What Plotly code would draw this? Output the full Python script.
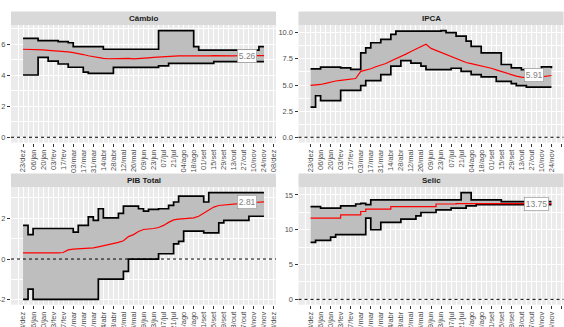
import plotly.graph_objects as go
import pandas as pd

# ---------------- data ----------------
dates = pd.date_range("2021-12-23", periods=49, freq="7D")

tick_dates = pd.date_range("2021-12-23", periods=26, freq="14D")
tick_labels = ["23/dez", "06/jan", "20/jan", "03/fev", "17/fev", "03/mar", "17/mar", "31/mar",
               "14/abr", "28/abr", "12/mai", "26/mai", "09/jun", "23/jun", "07/jul", "21/jul",
               "04/ago", "18/ago", "01/set", "15/set", "29/set", "13/out", "27/out", "10/nov",
               "24/nov", "08/dez"]

cambio_max = [6.37]*3 + [6.22]*4 + [6.16]*2 + [6.09] + [5.84]*6 + [5.67]*11 + [6.87]*7 + [5.84] + [5.62]*12 + [5.84]*2
cambio_min = [4.01]*3 + [5.15]*2 + [4.91]*2 + [4.72]*2 + [4.51]*3 + [4.2] + [4.12]*5 + [4.5]*9 + [4.6]*2 + [4.76]*9 + [4.87]*11
cambio_med = [5.67, 5.67, 5.66, 5.65, 5.63, 5.6, 5.58, 5.57, 5.56, 5.5, 5.45, 5.4, 5.33, 5.25, 5.18, 5.12,
              5.08, 5.06, 5.06, 5.08, 5.1, 5.08, 5.05, 5.07, 5.06, 5.12, 5.15, 5.17, 5.2, 5.24, 5.24, 5.25,
              5.25, 5.24, 5.25, 5.26, 5.25, 5.25, 5.26, 5.25, 5.26, 5.26, 5.25, 5.26, 5.26, 5.25, 5.26, 5.26, 5.26]

ipca_max = [6.54]*2 + [6.7]*4 + [6.63]*2 + [6.5]*2 + [8.08] + [8.56] + [9.04]*2 + [9.36]*2 + [9.84] + [10.16]*9 + [10.2] + [10.0]*2 + [9.68]*2 + [9.2] + [8.7]*2 + [8.08]*4 + [6.96]*2 + [6.63]*2 + [6.47]*4 + [6.73]*2 + [6.6]
ipca_min = [2.88] + [3.97] + [3.5]*4 + [4.49]*4 + [4.94] + [5.42]*3 + [6.0]*2 + [6.8]*2 + [7.34]*2 + [7.1]*2 + [6.8] + [6.47] + [6.47]*4 + [6.6]*2 + [6.3]*2 + [6.0]*2 + [5.77]*3 + [5.35]*3 + [5.13] + [4.94]*2 + [4.8]*6
ipca_med = [4.97, 5.0, 5.05, 5.15, 5.3, 5.38, 5.45, 5.5, 5.55, 5.62, 6.3, 6.4, 6.55, 6.75, 6.9, 7.05,
            7.3, 7.5, 7.7, 7.95, 8.2, 8.45, 8.7, 8.89, 8.5, 8.3, 8.15, 7.9, 7.7, 7.5, 7.3, 7.15,
            7.05, 6.95, 6.85, 6.7, 6.6, 6.45, 6.3, 6.1, 5.95, 5.85, 5.75, 5.67, 5.65, 5.7, 5.78, 5.85, 5.91]

pib_max = [1.65] + [1.2] + [1.5]*8 + [1.32] + [1.65]*2 + [2.07] + [1.9] + [2.47] + [2.02]*3 + [2.24] + [2.6]*3 + [2.47] + [2.35] + [2.44]*2 + [2.47]*2 + [2.63] + [2.8] + [3.09]*5 + [2.8] + [3.26]*12
pib_min = [-1.98] + [-1.48] + [-1.98]*13 + [-0.99]*5 + [-0.61] + [0.0]*6 + [0.26]*3 + [0.74] + [0.87] + [1.37]*4 + [1.28]*3 + [1.78] + [1.9]*5 + [2.1]*4
pib_med = [0.3, 0.3, 0.28, 0.3, 0.3, 0.3, 0.3, 0.3, 0.32, 0.45, 0.49, 0.5, 0.5, 0.52, 0.55, 0.6,
           0.65, 0.7, 0.78, 0.82, 0.9, 1.1, 1.2, 1.35, 1.45, 1.47, 1.5, 1.55, 1.65, 1.8, 1.92, 1.96,
           1.98, 2.0, 2.02, 2.1, 2.25, 2.4, 2.55, 2.63, 2.66, 2.68, 2.7, 2.72, 2.74, 2.76, 2.78, 2.8, 2.81]

selic_max = [13.33]*2 + [13.1]*4 + [13.43]*3 + [13.7] + [13.8] + [13.6] + [14.29]*18 + [15.33]*2 + [14.29]*6 + [14.05]*11
selic_min = [8.19] + [8.48]*3 + [8.95] + [9.29]*6 + [11.67] + [10.0]*2 + [11.05]*4 + [11.52]*3 + [12.0] + [12.48]*3 + [12.86]*3 + [13.1]*3 + [13.43]*2 + [13.62]*16
selic_med = [11.67]*6 + [12.14]*4 + [12.62] + [12.95]*5 + [13.33]*9 + [13.7]*4 + [13.75]*20

panel_titles = ["Câmbio", "IPCA", "PIB Total", "Selic"]
last_labels = ["5.26", "5.91", "2.81", "13.75"]

cambio_ticks = [0, 2, 4, 6];            cambio_ticktext = ["0", "2", "4", "6"]
ipca_ticks = [0, 2.5, 5, 7.5, 10];      ipca_ticktext = ["0.0", "2.5", "5.0", "7.5", "10.0"]
pib_ticks = [-2, 0, 2];                 pib_ticktext = ["-2", "0", "2"]
selic_ticks = [0, 5, 10, 15];           selic_ticktext = ["0", "5", "10", "15"]

# ---------------- layout geometry (pixels) ----------------
W, H = 564, 327
col_px = [(11, 276), (298.5, 563.5)]
row_px = [(25.3, 142.6), (187.3, 304.7)]
strip_h = 13.8

def px_x(a, b):
    return [a / W, b / W]

def px_y(top, bottom):
    return [1 - bottom / H, 1 - top / H]

panels = [
    dict(mn=cambio_min, md=cambio_med, mx=cambio_max, tv=cambio_ticks, tt=cambio_ticktext, col=0, row=0, med_shape="linear"),
    dict(mn=ipca_min, md=ipca_med, mx=ipca_max, tv=ipca_ticks, tt=ipca_ticktext, col=1, row=0, med_shape="linear"),
    dict(mn=pib_min, md=pib_med, mx=pib_max, tv=pib_ticks, tt=pib_ticktext, col=0, row=1, med_shape="linear"),
    dict(mn=selic_min, md=selic_med, mx=selic_max, tv=selic_ticks, tt=selic_ticktext, col=1, row=1, med_shape="hv"),
]

x_span = dates[-1] - dates[0]
x_range = [dates[0] - 0.05 * x_span, dates[-1] + 0.05 * x_span]

fig = go.Figure()
shapes = []
annotations = []
TICKC = "#4D4D4D"
FONT = "Liberation Sans, Arial, sans-serif"

for i, p in enumerate(panels):
    n = "" if i == 0 else str(i + 1)
    xa, ya = "x" + n, "y" + n
    # ribbon
    fig.add_trace(go.Scatter(x=dates, y=p["mn"], mode="lines", line=dict(width=0, shape="hv"),
                             xaxis=xa, yaxis=ya, showlegend=False, hoverinfo="skip"))
    fig.add_trace(go.Scatter(x=dates, y=p["mx"], mode="lines", line=dict(width=0, shape="hv"),
                             fill="tonexty", fillcolor="#BEBEBE",
                             xaxis=xa, yaxis=ya, showlegend=False, hoverinfo="skip"))
    # min / max lines
    for arr in (p["mn"], p["mx"]):
        fig.add_trace(go.Scatter(x=dates, y=arr, mode="lines", line=dict(color="black", width=1.7, shape="hv"),
                                 xaxis=xa, yaxis=ya, showlegend=False))
    # median
    fig.add_trace(go.Scatter(x=dates, y=p["md"], mode="lines",
                             line=dict(color="#FF0000", width=1.2, shape=p["med_shape"]),
                             xaxis=xa, yaxis=ya, showlegend=False))

    lo = min(0, min(p["mn"])); hi = max(p["mx"])
    pad = 0.05 * (hi - lo)
    c0, c1 = col_px[p["col"]]
    r0, r1 = row_px[p["row"]]
    minor_vals = [(a + b) / 2 for a, b in zip(p["tv"][:-1], p["tv"][1:])]
    step = p["tv"][1] - p["tv"][0]
    minor_vals = [p["tv"][0] - step / 2] + minor_vals + [p["tv"][-1] + step / 2]

    fig.update_layout(**{
        ("xaxis" + n): dict(domain=px_x(c0, c1), range=x_range, anchor=ya, automargin=False,
                            tickvals=tick_dates, ticktext=tick_labels, tickangle=-90,
                            tickfont=dict(size=7.5, color=TICKC, family=FONT),
                            ticks="outside", ticklen=3, tickcolor="#333333", tickwidth=0.8,
                            showgrid=True, gridcolor="white", gridwidth=1.1, zeroline=False,
                            showline=False,
                            minor=dict(showgrid=True, gridcolor="white", gridwidth=0.5,
                                       tick0="2021-12-30", dtick=14 * 86400000)),
        ("yaxis" + n): dict(domain=px_y(r0, r1), range=[lo - pad, hi + pad], anchor=xa, automargin=False,
                            tickvals=p["tv"], ticktext=p["tt"],
                            tickfont=dict(size=7.5, color=TICKC, family=FONT),
                            ticks="outside", ticklen=3, tickcolor="#333333", tickwidth=0.8,
                            showgrid=True, gridcolor="white", gridwidth=1.1, zeroline=False,
                            showline=False,
                            minor=dict(showgrid=True, gridcolor="white", gridwidth=0.5,
                                       tickmode="array", tickvals=minor_vals)),
    })

    # dashed zero line
    shapes.append(dict(type="line", xref=xa + " domain", x0=0, x1=1, yref=ya, y0=0, y1=0,
                       line=dict(color="black", width=1, dash="3px,3px")))
    # strip
    shapes.append(dict(type="rect", xref="paper", yref="paper", x0=c0 / W, x1=c1 / W,
                       y0=1 - r0 / H, y1=1 - (r0 - strip_h) / H,
                       fillcolor="#D9D9D9", line=dict(width=0), layer="below"))
    annotations.append(dict(xref="paper", yref="paper", x=(c0 + c1) / 2 / W, y=1 - (r0 - strip_h / 2) / H,
                            text="<b>" + panel_titles[i] + "</b>", showarrow=False,
                            font=dict(size=8, color="#1A1A1A", family=FONT),
                            xanchor="center", yanchor="middle"))
    # last value label
    annotations.append(dict(xref=xa, yref=ya, x=dates[-1] - pd.Timedelta(days=38), y=p["md"][-1],
                            text=last_labels[i], showarrow=False, xanchor="left", yanchor="middle",
                            font=dict(size=8.5, color="#7F7F7F", family=FONT),
                            bgcolor="white", bordercolor="#8C8C8C", borderwidth=0.6, borderpad=1.2))

fig.update_layout(width=W, height=H, margin=dict(l=0, r=0, t=0, b=0, autoexpand=False),
                  plot_bgcolor="#EBEBEB", paper_bgcolor="white",
                  shapes=shapes, annotations=annotations, showlegend=False)

fig.write_html("out.html", config={"displayModeBar": False},
               post_script="document.body.style.margin='0';document.body.style.overflow='hidden';")
